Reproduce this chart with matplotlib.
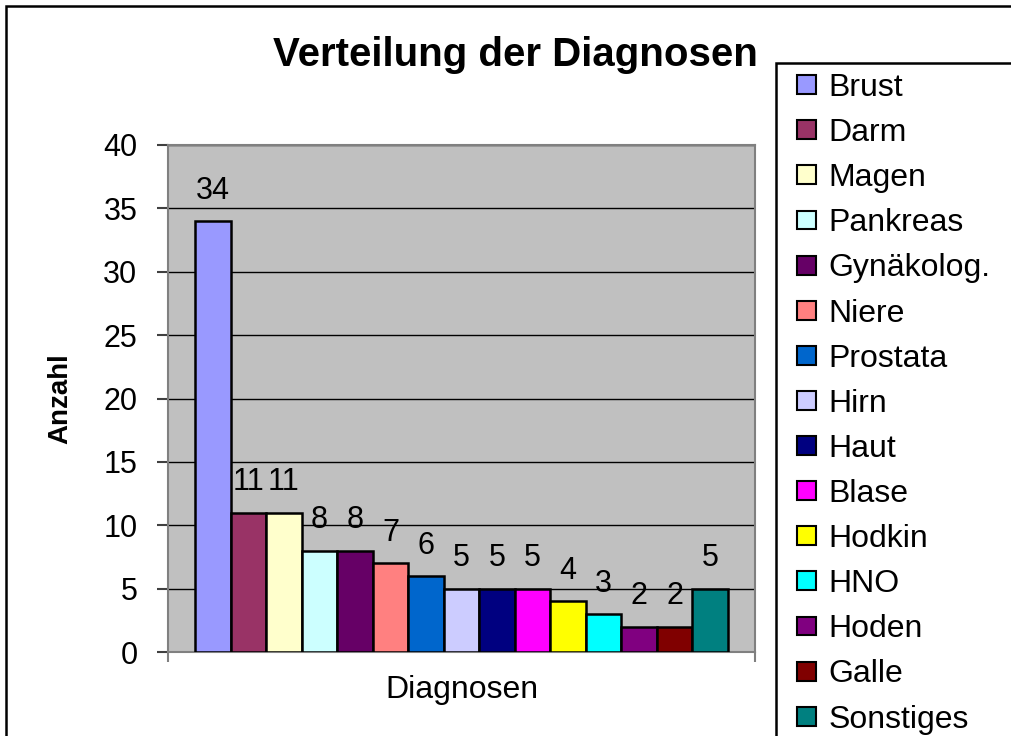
import matplotlib
matplotlib.use("Agg")
import matplotlib.pyplot as plt
from matplotlib.patches import Rectangle, Patch

plt.rcParams['font.family'] = ['Liberation Sans', 'DejaVu Sans']

# Daten
diagnosen = ["Brust", "Darm", "Magen", "Pankreas", "Gynäkolog.", "Niere", "Prostata",
             "Hirn", "Haut", "Blase", "Hodkin", "HNO", "Hoden", "Galle", "Sonstiges"]
anzahl = [34, 11, 11, 8, 8, 7, 6, 5, 5, 5, 4, 3, 2, 2, 5]
farben = ["#9999FF", "#993366", "#FFFFCC", "#CCFFFF", "#660066", "#FF8080", "#0066CC",
          "#CCCCFF", "#000080", "#FF00FF", "#FFFF00", "#00FFFF", "#800080", "#800000",
          "#008080"]
y_ticks = [0, 5, 10, 15, 20, 25, 30, 35, 40]

W, H = 1011, 736
fig = plt.figure(figsize=(W / 100, H / 100), dpi=100)

# Rahmen um das ganze Diagramm (rechts/unten abgeschnitten)
fig.patches.append(Rectangle((6 / W, -0.1), 1.2, 1 - 6 / H + 0.1, transform=fig.transFigure,
                             fill=False, edgecolor="black", linewidth=1.8))

ax = fig.add_axes([168 / W, 1 - 652 / H, 587 / W, 507 / H])
ax.set_facecolor("#C0C0C0")

x = list(range(len(diagnosen)))
bars = ax.bar(x, anzahl, width=1.0, color=farben, edgecolor="black", linewidth=1.8, zorder=3)

# Werte ueber den Balken
for xi, v in zip(x, anzahl):
    ax.annotate(str(v), (xi, v), xytext=(0, 16), textcoords="offset points",
                ha="center", va="baseline", fontsize=22, zorder=4)

ax.set_xlim(-0.5 - 0.76, len(diagnosen) - 0.5 + 0.76)
ax.set_ylim(0, 40)
ax.set_yticks(y_ticks)
ax.yaxis.grid(True, color="black", linewidth=1.0, zorder=1)
ax.set_axisbelow(True)

ax.set_xticks(ax.get_xlim())
ax.set_xticklabels([])
ax.tick_params(axis="x", direction="out", length=7, width=1.5, color="#808080")
ax.tick_params(axis="y", direction="out", length=8, width=1.5, color="#404040",
               labelsize=22, pad=14)

for s in ax.spines.values():
    s.set_color("#808080")
    s.set_linewidth(1.5)

ax.set_ylabel("Anzahl", fontsize=20, fontweight="bold")
ax.yaxis.set_label_coords(-0.184, 0.5)
ax.yaxis.label.set_va("center")
ax.set_xlabel("Diagnosen", fontsize=23)
ax.xaxis.set_label_coords(0.5, -0.075)
ax.xaxis.label.set_va("center")

fig.text(515 / W, 1 - 55 / H, "Verteilung der Diagnosen", fontsize=29, fontweight="bold",
         ha="center", va="center")

# Legende mit eigenem Rahmen
fig.patches.append(Rectangle((776 / W, -0.1), 1.0, 1 - 63 / H + 0.1, transform=fig.transFigure,
                             fill=False, edgecolor="black", linewidth=1.8))
handles = [Patch(facecolor=c, edgecolor="black", linewidth=1.5) for c in farben]
fig.legend(handles, diagnosen, loc="upper left", bbox_to_anchor=(797 / W, 1 - 73 / H),
           bbox_transform=fig.transFigure, frameon=False, fontsize=23, borderpad=0,
           borderaxespad=0, handlelength=0.6, handleheight=0.53, handletextpad=0.38,
           labelspacing=0.473)

fig.savefig("out.png", dpi=100)
